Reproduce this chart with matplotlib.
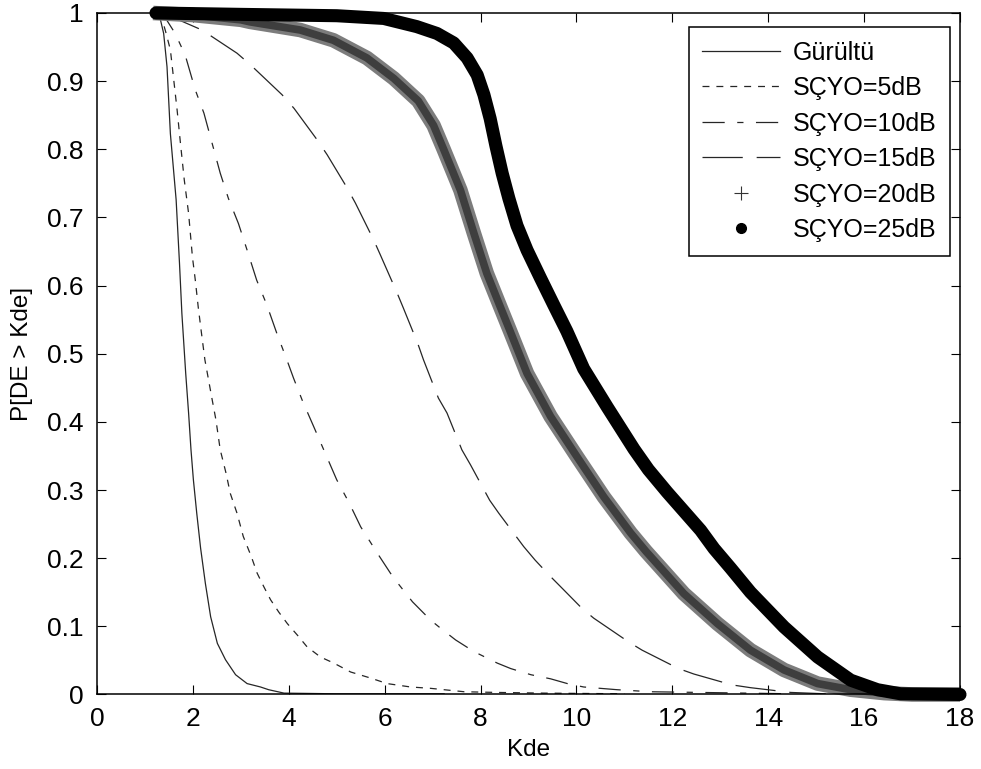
import matplotlib
matplotlib.use("Agg")
import matplotlib.pyplot as plt
from matplotlib.lines import Line2D

plt.rcParams['font.family'] = ['Liberation Sans', 'DejaVu Sans']
plt.rcParams['lines.scale_dashes'] = False

# --- curves ---
noise_x = [1.29, 1.39, 1.46, 1.53, 1.65, 1.72, 1.77, 1.85, 1.91, 1.96, 2.01, 2.08, 2.16,
           2.26, 2.37, 2.51, 2.68, 2.89, 3.13, 3.41, 3.58, 3.90, 5.00, 7.24]
noise_y = [1.0, 0.970, 0.921, 0.823, 0.726, 0.633, 0.559, 0.471, 0.413, 0.359, 0.315, 0.266, 0.215,
           0.163, 0.114, 0.075, 0.051, 0.029, 0.016, 0.011, 0.007, 0.002, 0.001, 0.001]

snr5_x = [1.32, 1.43, 1.53, 1.60, 1.67, 1.74, 1.82, 1.91, 1.99, 2.05, 2.11, 2.17, 2.25, 2.32,
          2.39, 2.48, 2.57, 2.69, 2.78, 2.92, 3.05, 3.22, 3.34, 3.48, 3.62, 3.79, 3.97, 4.18,
          4.38, 4.66, 4.94, 5.29, 5.71, 6.05, 6.54, 6.96, 7.66, 8.35, 9.33, 11.0]
snr5_y = [1.0, 0.973, 0.946, 0.902, 0.858, 0.809, 0.755, 0.706, 0.642, 0.608, 0.569, 0.535, 0.491, 0.464,
          0.437, 0.403, 0.359, 0.325, 0.295, 0.266, 0.232, 0.202, 0.178, 0.158, 0.139, 0.121, 0.104, 0.087,
          0.070, 0.055, 0.046, 0.033, 0.024, 0.016, 0.011, 0.009, 0.004, 0.003, 0.002, 0.001]

snr10_x = [1.30, 1.45, 1.63, 1.84, 2.05, 2.23, 2.40, 2.57, 2.74, 2.95, 3.14, 3.33, 3.54, 3.75,
           3.96, 4.10, 4.29, 4.52, 4.76, 5.00, 5.26, 5.50, 5.85, 6.12, 6.30, 6.58, 6.96, 7.17,
           7.48, 7.86, 8.35, 8.63, 9.05, 9.46, 9.81, 10.15, 10.85, 11.55, 12.59, 14.5]
snr10_y = [1.0, 0.990, 0.970, 0.938, 0.887, 0.853, 0.809, 0.765, 0.728, 0.691, 0.650, 0.608, 0.572, 0.530,
           0.491, 0.464, 0.430, 0.393, 0.354, 0.315, 0.281, 0.246, 0.207, 0.178, 0.161, 0.136, 0.109, 0.097,
           0.080, 0.063, 0.046, 0.038, 0.029, 0.023, 0.016, 0.011, 0.007, 0.004, 0.003, 0.001]

snr15_x = [1.35, 1.70, 2.19, 2.92, 3.20, 3.86, 4.11, 4.59, 4.80, 5.22, 5.39, 5.77, 5.91, 6.26,
           6.39, 6.69, 6.81, 7.12, 7.30, 7.61, 7.79, 8.19, 8.38, 8.90, 9.14, 9.46, 9.70, 10.12,
           10.36, 11.09, 11.37, 12.13, 12.45, 13.25, 13.63, 14.47, 15.2]
snr15_y = [1.0, 0.990, 0.975, 0.941, 0.924, 0.880, 0.860, 0.814, 0.792, 0.743, 0.721, 0.667, 0.645, 0.589,
           0.567, 0.515, 0.491, 0.435, 0.413, 0.359, 0.337, 0.285, 0.266, 0.217, 0.197, 0.173, 0.156, 0.126,
           0.112, 0.077, 0.065, 0.038, 0.030, 0.014, 0.010, 0.003, 0.001]

snr20_x = [1.17, 2.0, 3.0, 3.19, 4.24, 4.93, 5.63, 6.19, 6.70, 7.02, 7.23, 7.58, 7.86, 8.13,
           8.41, 8.60, 8.97, 9.46, 10.01, 10.57, 11.13, 11.45, 12.24, 12.94, 13.63, 14.33, 15.03,
           15.72, 16.42, 17.0, 18.0]
snr20_y = [1.0, 0.997, 0.990, 0.987, 0.975, 0.960, 0.934, 0.904, 0.871, 0.835, 0.800, 0.740, 0.677, 0.618,
           0.569, 0.536, 0.471, 0.408, 0.349, 0.290, 0.237, 0.210, 0.148, 0.104, 0.065, 0.036, 0.016,
           0.007, 0.002, 0.0, 0.0]

snr25_x = [1.23, 3.0, 5.0, 5.98, 6.67, 7.09, 7.44, 7.72, 7.93, 8.07, 8.20, 8.32, 8.45, 8.59,
           8.76, 8.97, 9.25, 9.53, 9.80, 10.15, 10.64, 11.20, 11.50, 11.89, 12.59, 12.87, 13.22,
           13.63, 14.33, 15.03, 15.72, 16.28, 16.76, 18.0]
snr25_y = [1.0, 0.998, 0.996, 0.992, 0.980, 0.970, 0.956, 0.934, 0.909, 0.880, 0.845, 0.805, 0.765, 0.728,
           0.688, 0.652, 0.611, 0.571, 0.533, 0.478, 0.422, 0.360, 0.330, 0.297, 0.241, 0.214, 0.185,
           0.150, 0.099, 0.055, 0.021, 0.007, 0.001, 0.0]

labels = ['Gürültü', 'SÇYO=5dB', 'SÇYO=10dB', 'SÇYO=15dB', 'SÇYO=20dB', 'SÇYO=25dB']
x_ticks = list(range(0, 19, 2))
y_ticks = [0, 0.1, 0.2, 0.3, 0.4, 0.5, 0.6, 0.7, 0.8, 0.9, 1]
y_ticklabels = ['0', '0.1', '0.2', '0.3', '0.4', '0.5', '0.6', '0.7', '0.8', '0.9', '1']

fig = plt.figure(figsize=(9.81, 7.69), dpi=100)
ax = fig.add_axes([0.0989, 0.0969, 0.8797, 0.8862])

thin = '#262626'
ax.plot(noise_x, noise_y, color=thin, lw=0.9, ls='-')
ax.plot(snr5_x, snr5_y, color=thin, lw=0.9, ls=(0, (5, 5)))
ax.plot(snr10_x, snr10_y, color=thin, lw=0.9, ls=(0, (16, 9, 4.5, 9)))
ax.plot(snr15_x, snr15_y, color=thin, lw=0.9, ls=(0, (29, 10)))

# dense '+' markers in the original -> gray hatched band
ax.plot(snr20_x, snr20_y, color='#7c7c7c', lw=10.5, solid_capstyle='butt',
        solid_joinstyle='round', clip_on=False)
ax.plot(snr20_x, snr20_y, color='#3e3e3e', lw=5.5, solid_capstyle='butt',
        solid_joinstyle='round', clip_on=False)
# dense '.' markers -> solid black band
ax.plot(snr25_x, snr25_y, color='black', lw=9.4, solid_capstyle='round',
        solid_joinstyle='round', clip_on=False)

ax.set_xlim(0, 18)
ax.set_ylim(0, 1)
ax.set_xticks(x_ticks)
ax.set_yticks(y_ticks)
ax.set_yticklabels(y_ticklabels)
ax.tick_params(direction='in', length=6.5, width=0.8, top=True, right=True,
               labelsize=19, colors='black')
ax.tick_params(axis='x', pad=9)
ax.tick_params(axis='y', pad=10)
for s in ax.spines.values():
    s.set_linewidth(1.1)
ax.set_xlabel('Kde', fontsize=17.5, labelpad=6)
ax.set_ylabel('P[DE > Kde]', fontsize=17.5, labelpad=10)

handles = [
    Line2D([], [], color=thin, lw=0.9, ls='-'),
    Line2D([], [], color=thin, lw=0.9, ls=(0, (5, 5))),
    Line2D([], [], color=thin, lw=0.9, ls=(0, (16, 9, 4.5, 9))),
    Line2D([], [], color=thin, lw=0.9, ls=(0, (29, 10))),
    Line2D([], [], color='#333333', ls='none', marker='+', markersize=10, markeredgewidth=0.8),
    Line2D([], [], color='black', ls='none', marker='o', markersize=7),
]
leg = ax.legend(handles, labels, loc='upper right', bbox_to_anchor=(0.9884, 0.9795),
                fontsize=18, frameon=True, fancybox=False, edgecolor='black', framealpha=1,
                handlelength=3.1, handletextpad=0.5, labelspacing=0.46, borderpad=0.55,
                borderaxespad=0, numpoints=1)
leg.get_frame().set_linewidth(1.1)

fig.savefig('out.png', dpi=100, facecolor='white')
